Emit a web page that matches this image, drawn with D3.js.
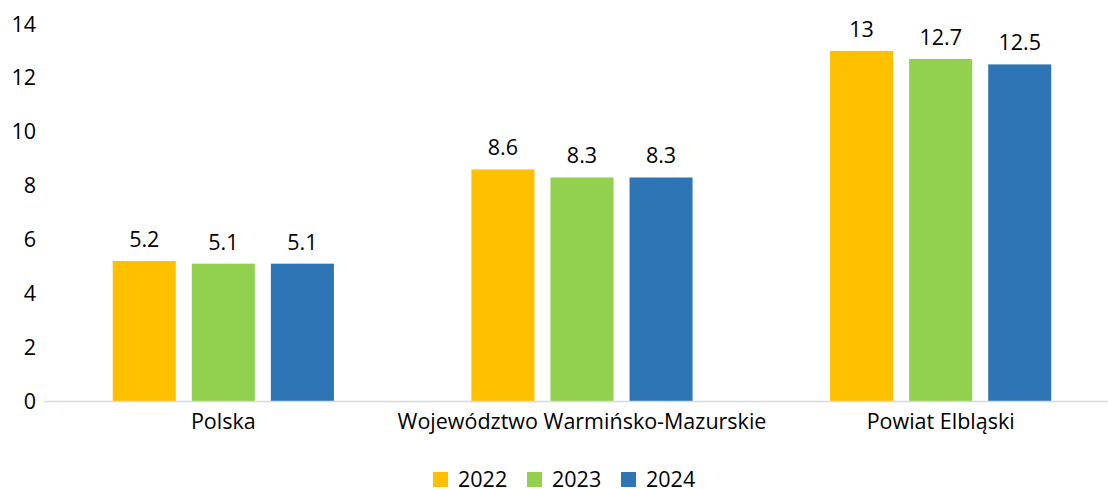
<!DOCTYPE html>
<html lang="pl">
<head>
<meta charset="UTF-8">
<title>Wykres słupkowy 2022-2024</title>
<script src="https://d3js.org/d3.v7.min.js"></script>
<style>
  body { margin: 0; background: #fff; }
  text { font-family: "Open Sans", "Lato", sans-serif; fill: #000; }
</style>
</head>
<body>
<svg id="chart" width="1108" height="489"></svg>
<script>
const categories = ["Polska", "Województwo Warmińsko-Mazurskie", "Powiat Elbląski"];
const years = ["2022", "2023", "2024"];
const values2022 = [5.2, 8.6, 13];
const values2023 = [5.1, 8.3, 12.7];
const values2024 = [5.1, 8.3, 12.5];
const yTicks = [0, 2, 4, 6, 8, 10, 12, 14];
const colors = ["#FFC000", "#92D050", "#2E75B6"];

const series = [values2022, values2023, values2024];
const rows = categories.map((c, i) => ({
  cat: c,
  vals: years.map((y, j) => ({ year: y, value: series[j][i] }))
}));

const svg = d3.select("#chart");
const fs = "21.5px";

const x = d3.scaleBand().domain(categories).range([44, 1120]).paddingInner(0).paddingOuter(0);
const inner = d3.scaleBand().domain(years).range([68.75, x.bandwidth() - 68.75]).paddingInner(16 / 79).paddingOuter(0);
const y = d3.scaleLinear().domain([0, 14]).range([401, 24]);

// y tick labels
svg.append("g")
  .selectAll("text")
  .data(yTicks)
  .join("text")
  .attr("x", 36)
  .attr("y", d => y(d))
  .attr("dy", "0.35em")
  .attr("text-anchor", "end")
  .style("font-size", fs)
  .text(d => d);

// bars
const groups = svg.append("g")
  .selectAll("g")
  .data(rows)
  .join("g")
  .attr("transform", d => `translate(${x(d.cat)},0)`);

groups.selectAll("rect")
  .data(d => d.vals)
  .join("rect")
  .attr("x", d => inner(d.year))
  .attr("width", inner.bandwidth())
  .attr("y", d => y(d.value))
  .attr("height", d => y(0) - y(d.value))
  .attr("fill", (d, i) => colors[i]);

groups.selectAll("text.lbl")
  .data(d => d.vals)
  .join("text")
  .attr("class", "lbl")
  .attr("x", d => inner(d.year) + inner.bandwidth() / 2)
  .attr("y", d => y(d.value) - 14)
  .attr("text-anchor", "middle")
  .style("font-size", fs)
  .text(d => d.value);

// baseline
svg.append("line")
  .attr("x1", 44).attr("x2", 1108)
  .attr("y1", y(0) + 0.5).attr("y2", y(0) + 0.5)
  .attr("stroke", "#D9D9D9")
  .attr("stroke-width", 1.5);

// category labels
svg.append("g")
  .selectAll("text")
  .data(categories)
  .join("text")
  .attr("x", d => x(d) + x.bandwidth() / 2)
  .attr("y", 421)
  .attr("dy", "0.35em")
  .attr("text-anchor", "middle")
  .style("font-size", fs)
  .text(d => d);

// legend
const legendX = [433, 527, 621];
const legend = svg.append("g")
  .selectAll("g")
  .data(years)
  .join("g")
  .attr("transform", (d, i) => `translate(${legendX[i]},472)`);
legend.append("rect")
  .attr("width", 15).attr("height", 15)
  .attr("fill", (d, i) => colors[i]);
legend.append("text")
  .attr("x", 25)
  .attr("y", 7.5)
  .attr("dy", "0.35em")
  .style("font-size", fs)
  .text(d => d);
</script>
</body>
</html>
